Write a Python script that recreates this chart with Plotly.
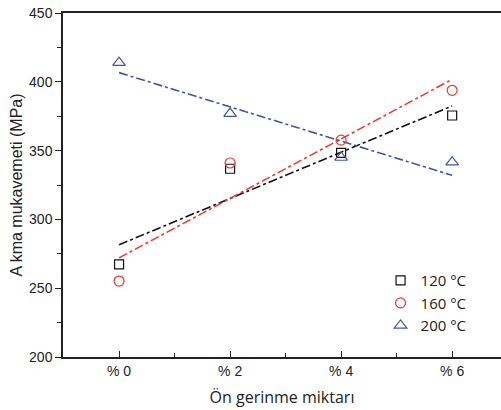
import numpy as np
import plotly.graph_objects as go

categories = ["% 0", "% 2", "% 4", "% 6"]
x_pos = [0, 1, 2, 3]
series_names = ["120 °C", "160 °C", "200 °C"]
y_120 = [267.3, 336.8, 348.4, 375.5]
y_160 = [255.2, 341.0, 357.6, 393.8]
y_200 = [413.9, 376.9, 345.0, 341.6]

colors = ["#111111", "#e8392a", "#3f55a8"]
symbols = ["square-open", "circle-open", "triangle-up-open"]
sizes = [9, 10, 11]

fig = go.Figure()
for name, ys, c, s, sz in zip(series_names, [y_120, y_160, y_200], colors, symbols, sizes):
    k, b = np.polyfit(x_pos, ys, 1)
    fit = [k * xi + b for xi in x_pos]
    fig.add_trace(go.Scatter(x=x_pos, y=fit, mode="lines",
                             line=dict(color=c, width=1.6, dash="dashdot"),
                             showlegend=False, hoverinfo="skip"))
for name, ys, c, s, sz in zip(series_names, [y_120, y_160, y_200], colors, symbols, sizes):
    fig.add_trace(go.Scatter(x=x_pos, y=ys, mode="markers", name=name,
                             marker=dict(symbol=s, size=sz, color=c, line=dict(width=1.2, color=c))))

fig.update_layout(
    width=501, height=410,
    margin=dict(l=63, r=0, t=13, b=53),
    plot_bgcolor="white", paper_bgcolor="white",
    font=dict(family="Liberation Sans, Arial", size=13, color="#222"),
    legend=dict(x=0.725, y=0.27, xanchor="left", yanchor="top",
                font=dict(family="Open Sans", size=15, color="#222"),
                bgcolor="rgba(0,0,0,0)", tracegroupgap=0),
    showlegend=True,
)
fig.update_xaxes(
    range=[-0.505, 3.44], tickmode="array", tickvals=x_pos, ticktext=categories,
    showline=True, linecolor="#222", linewidth=1.5, mirror=True,
    ticks="inside", ticklen=6, tickwidth=1, tickcolor="#222",
    minor=dict(tickvals=[0.5, 1.5, 2.5], ticks="inside", ticklen=4, tickcolor="#222"),
    showgrid=False, zeroline=False,
    tickfont=dict(family="Liberation Sans, Arial", size=14),
    title=dict(text="Ön gerinme miktarı", font=dict(family="Open Sans", size=16), standoff=14),
)
fig.update_yaxes(
    range=[200, 450], tickmode="array", tickvals=[200, 250, 300, 350, 400, 450],
    showline=True, linecolor="#222", linewidth=1.5, mirror=False,
    ticks="outside", ticklen=6, tickwidth=1, tickcolor="#222",
    minor=dict(tickvals=[225, 275, 325, 375, 425], ticks="outside", ticklen=4, tickcolor="#222"),
    showgrid=False, zeroline=False,
    tickfont=dict(family="Liberation Sans, Arial", size=14),
    title=dict(text="A kma mukavemeti (MPa)", font=dict(family="Liberation Sans, Arial", size=16), standoff=2),
)
fig.write_html("out.html")
